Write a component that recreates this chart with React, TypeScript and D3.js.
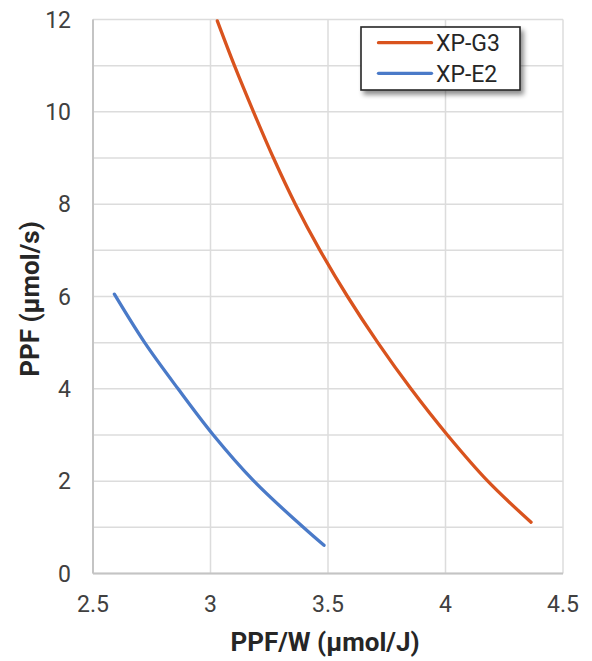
import React from "react";
import * as d3 from "d3";

const seriesNames = ["XP-G3", "XP-E2"];
const seriesColors = ["#D9531E", "#4A7AC8"];

const g3X = [3.029, 3.102, 3.183, 3.268, 3.361, 3.466, 3.583, 3.712, 3.853, 4.008, 4.18, 4.364];
const g3Y = [11.97, 11, 10, 9, 8, 7, 6, 5, 4, 3, 2, 1.11];

const e2X = [2.591, 2.72, 2.862, 3.012, 3.185, 3.395, 3.483];
const e2Y = [6.05, 5, 4, 3, 2, 1, 0.61];

const xTicks = [2.5, 3, 3.5, 4, 4.5];
const yTicks = [0, 2, 4, 6, 8, 10, 12];
const yGrid = [0, 1, 2, 3, 4, 5, 6, 7, 8, 9, 10, 11, 12];

const xTitle = "PPF/W (µmol/J)";
const yTitle = "PPF (µmol/s)";

export default function App() {
  const W = 592, H = 661;
  const x = d3.scaleLinear().domain([2.5, 4.5]).range([93, 563]);
  const y = d3.scaleLinear().domain([0, 12]).range([573.5, 19.5]);
  const line = d3
    .line<[number, number]>()
    .x((d) => x(d[0]))
    .y((d) => y(d[1]))
    .curve(d3.curveCatmullRom.alpha(0.5));
  const series = [
    g3X.map((v, i) => [v, g3Y[i]] as [number, number]),
    e2X.map((v, i) => [v, e2Y[i]] as [number, number]),
  ];
  const font = "Roboto, 'Noto Sans', sans-serif";
  return (
    <svg
      width={W}
      height={H}
      style={{ position: "absolute", left: 0, top: 0, background: "#fff" }}
    >
      <defs>
        <filter id="shadow" x="-20%" y="-20%" width="150%" height="160%">
          <feGaussianBlur in="SourceAlpha" stdDeviation="2.5" />
          <feOffset dx="3" dy="4" result="b" />
          <feComponentTransfer>
            <feFuncA type="linear" slope="0.45" />
          </feComponentTransfer>
          <feMerge>
            <feMergeNode />
            <feMergeNode in="SourceGraphic" />
          </feMerge>
        </filter>
      </defs>
      <rect x={0} y={0} width={W} height={H} fill="#fff" />
      {yGrid.map((v) => (
        <line key={"gy" + v} x1={x(2.5)} x2={x(4.5)} y1={y(v)} y2={y(v)} stroke="#dcdcdc" strokeWidth={1.5} />
      ))}
      {xTicks.map((v) => (
        <line key={"gx" + v} x1={x(v)} x2={x(v)} y1={y(0)} y2={y(12)} stroke="#dcdcdc" strokeWidth={1.5} />
      ))}
      <line x1={x(2.5)} x2={x(2.5)} y1={y(0)} y2={y(12)} stroke="#c4c4c4" strokeWidth={2} />
      <line x1={x(2.5)} x2={x(4.5)} y1={y(0)} y2={y(0)} stroke="#c4c4c4" strokeWidth={2} />
      {yTicks.map((v) => (
        <text key={"ty" + v} x={71} y={y(v)} dy="0.36em" textAnchor="end" fontFamily={font} fontSize={23} fill="#404040">
          {v}
        </text>
      ))}
      {xTicks.map((v) => (
        <text key={"tx" + v} x={x(v)} y={611.5} textAnchor="middle" fontFamily={font} fontSize={23} fill="#404040">
          {v}
        </text>
      ))}
      <text x={325} y={651} textAnchor="middle" fontFamily={font} fontSize={26} fontWeight="bold" fill="#262626">
        {xTitle}
      </text>
      <text
        transform={`translate(39, ${299}) rotate(-90)`}
        textAnchor="middle"
        fontFamily={font}
        fontSize={26}
        fontWeight="bold"
        fill="#262626"
      >
        {yTitle}
      </text>
      {series.map((s, i) => (
        <path key={"s" + i} d={line(s) || ""} fill="none" stroke={seriesColors[i]} strokeWidth={3.3} strokeLinecap="round" />
      ))}
      <g>
        <rect x={361} y={27} width={159} height={63} fill="#fff" stroke="#262626" strokeWidth={1.6} filter="url(#shadow)" />
        {seriesNames.map((n, i) => (
          <g key={"l" + i}>
            <line x1={378.5} x2={431.5} y1={42.7 + i * 30.6} y2={42.7 + i * 30.6} stroke={seriesColors[i]} strokeWidth={3.3} strokeLinecap="round" />
            <text x={436} y={42.7 + i * 30.6} dy="0.36em" fontFamily={font} fontSize={23} fill="#262626">
              {n}
            </text>
          </g>
        ))}
      </g>
    </svg>
  );
}
